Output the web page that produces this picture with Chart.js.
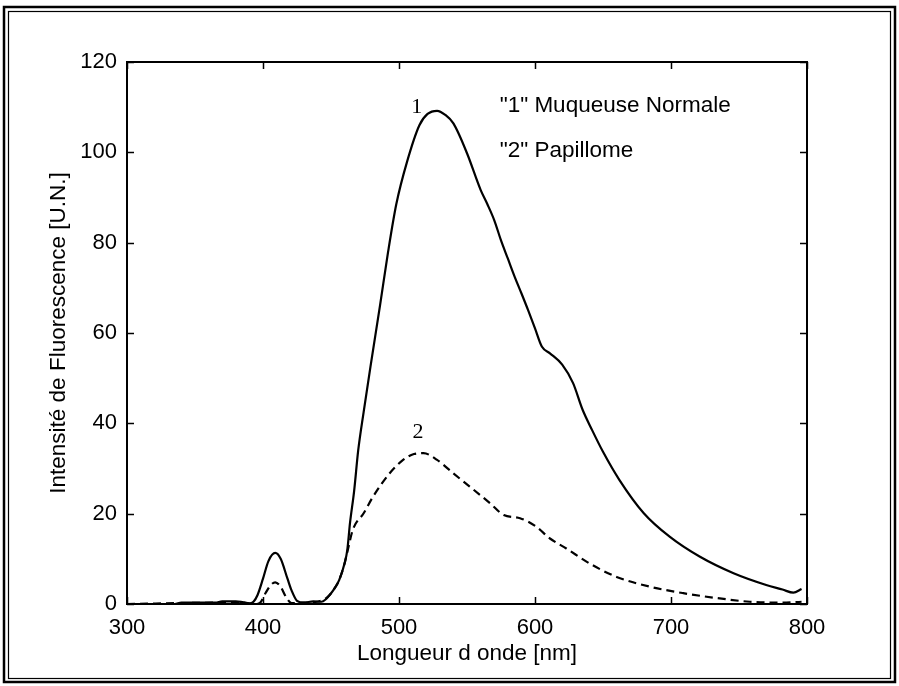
<!DOCTYPE html>
<html><head><meta charset="utf-8">
<script src="https://cdn.jsdelivr.net/npm/chart.js@4"></script>
<style>html,body{margin:0;padding:0;background:#fff;}</style>
</head><body>
<canvas id="c" width="899" height="686"></canvas>
<script>
// ---- data ----
const wavelength1 = [300,335,340,355,365,370,380,385,390,393,396,400,404,409,413,418,421,425,430,437,443,446,449,452,456,460,462,464,467,470,474,479,486,492,498,506,515,521,528,534,540,550,560,565,570,575,580,585,590,595,600,605,611,620,628,635,642,650,662,680,699,721,746,770,782,790,796];
const intensity1  = [0,0,0.3,0.3,0.3,0.6,0.6,0.4,0.1,0.5,2,5.6,9.5,11.3,10,5.6,3,0.7,0.3,0.6,0.5,1,2,3.2,5.3,9,12,18,25,34,42.5,52.5,66,78,88.5,98,106,108.5,109.2,108.3,106.4,99.8,91.7,88.5,85,80.5,76.5,72.5,68.8,65,61,57,55.5,53,48.9,43,38.5,33.7,27.5,20.1,14.9,10.5,6.8,4.2,3.2,2.5,3.3];
const wavelength2 = [300,340,370,385,395,398,402,406,409,413,417,421,430,440,446,449,452,456,460,462,466,474,481,493,503,511,518,528,540,552,567,577,589,601,611,623,640,660,685,709,734,758,782,796];
const intensity2  = [0,0.2,0.3,0.3,0,0.3,2.5,4.3,4.8,3.8,1.5,0.2,0.3,0.5,1.2,2,3.2,5.3,9,11.5,16.4,20.1,23.8,28.9,31.9,33.2,33.4,31.9,28.9,26,22.3,19.7,19,17.1,14.5,12.3,9,6,3.8,2.4,1.3,0.5,0.3,0.5];
const xTicks = [300,400,500,600,700,800];
const yTicks = [0,20,40,60,80,100,120];
const seriesNames = ['"1" Muqueuse Normale', '"2" Papillome'];
const curveLabels = ['1', '2'];
const curveLabelX = [513, 514];
const curveLabelY = [110, 38];
const legendX = 574;
const legendY = [110.4, 100.4];

const SANS = '"Liberation Sans", Arial, sans-serif';
const SERIF = '"Liberation Serif", "Times New Roman", serif';

const decor = {
  id: 'decor',
  afterDatasetsDraw(chart) {
    const ctx = chart.ctx;
    const xs = chart.scales.x, ys = chart.scales.y;
    const a = chart.chartArea;
    ctx.save();
    ctx.strokeStyle = '#000';
    ctx.lineWidth = 2;
    ctx.strokeRect(a.left, a.top, a.right - a.left, a.bottom - a.top);
    ctx.lineWidth = 1.5;
    const tl = 7;
    ctx.beginPath();
    xTicks.forEach(v => {
      const p = Math.round(xs.getPixelForValue(v)) + 0.5;
      ctx.moveTo(p, a.bottom); ctx.lineTo(p, a.bottom - tl);
      ctx.moveTo(p, a.top); ctx.lineTo(p, a.top + tl);
    });
    yTicks.forEach(v => {
      const p = Math.round(ys.getPixelForValue(v)) + 0.5;
      ctx.moveTo(a.left, p); ctx.lineTo(a.left + tl, p);
      ctx.moveTo(a.right, p); ctx.lineTo(a.right - tl, p);
    });
    ctx.stroke();
    ctx.fillStyle = '#000';
    ctx.font = '22px ' + SERIF;
    ctx.textAlign = 'center';
    ctx.textBaseline = 'middle';
    curveLabels.forEach((t, i) => {
      ctx.fillText(t, xs.getPixelForValue(curveLabelX[i]), ys.getPixelForValue(curveLabelY[i]));
    });
    ctx.font = '22.5px ' + SANS;
    ctx.textAlign = 'left';
    seriesNames.forEach((t, i) => {
      ctx.fillText(t, xs.getPixelForValue(legendX), ys.getPixelForValue(legendY[i]));
    });
    ctx.restore();
  },
  afterDraw(chart) {
    const ctx = chart.ctx;
    ctx.save();
    ctx.strokeStyle = '#000';
    ctx.lineWidth = 2.5;
    ctx.strokeRect(4, 7, 891, 675);
    ctx.lineWidth = 1.2;
    ctx.strokeRect(8.5, 11.5, 882, 667);
    ctx.restore();
  }
};

new Chart(document.getElementById('c'), {
  type: 'line',
  data: {
    datasets: [
      {
        label: seriesNames[0],
        data: wavelength1.map((x, i) => ({x, y: intensity1[i]})),
        borderColor: '#000', borderWidth: 2.2, pointRadius: 0,
        cubicInterpolationMode: 'monotone', fill: false
      },
      {
        label: seriesNames[1],
        data: wavelength2.map((x, i) => ({x, y: intensity2[i]})),
        borderColor: '#000', borderWidth: 2.2, borderDash: [8, 5], pointRadius: 0,
        cubicInterpolationMode: 'monotone', fill: false
      }
    ]
  },
  options: {
    responsive: false,
    animation: false,
    devicePixelRatio: 1,
    layout: { padding: { top: 62, right: 92, bottom: 0, left: 0 } },
    plugins: { legend: { display: false }, tooltip: { enabled: false } },
    scales: {
      x: {
        type: 'linear', min: 300, max: 800,
        afterBuildTicks: s => { s.ticks = xTicks.map(v => ({value: v})); },
        afterFit: s => { s.height = 82; },
        grid: { display: false, drawTicks: false },
        border: { display: false },
        ticks: { color: '#000', font: { family: SANS, size: 22 }, padding: 11, maxRotation: 0 },
        title: { display: true, text: 'Longueur d onde [nm]', color: '#000',
                 font: { family: SANS, size: 22.5 }, padding: { top: 0, bottom: 19 } }
      },
      y: {
        min: 0, max: 120,
        afterBuildTicks: s => { s.ticks = yTicks.map(v => ({value: v})); },
        afterFit: s => { s.width = 127; },
        grid: { display: false, drawTicks: false },
        border: { display: false },
        ticks: { color: '#000', font: { family: SANS, size: 22 }, padding: 10 },
        title: { display: true, text: 'Intensité de Fluorescence [U.N.]', color: '#000',
                 font: { family: SANS, size: 22.5 }, padding: { top: 45, bottom: 0 } }
      }
    }
  },
  plugins: [decor]
});
</script>
</body></html>
